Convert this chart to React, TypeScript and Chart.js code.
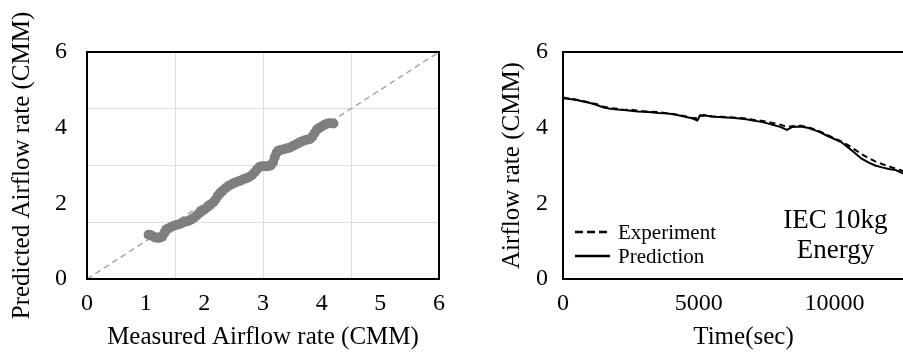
import React, { useEffect, useRef } from 'react';
import { Chart, registerables } from 'chart.js';
Chart.register(...registerables);

const FONT = "'Liberation Serif', 'Times New Roman', serif";

// ---- Left chart: measured vs predicted ----
const measured = [
  1.05, 1.08, 1.12, 1.16, 1.2, 1.24, 1.28, 1.32, 1.35, 1.38, 1.42, 1.47, 1.52, 1.57, 1.62, 1.67, 1.72, 1.77,
  1.82, 1.87, 1.92, 1.96, 2.0, 2.05, 2.1, 2.15, 2.19, 2.23, 2.27, 2.31, 2.36, 2.41, 2.46, 2.51, 2.56, 2.61,
  2.66, 2.71, 2.76, 2.81, 2.86, 2.9, 2.94, 2.98, 3.03, 3.08, 3.13, 3.17, 3.2, 3.23, 3.26, 3.3, 3.35, 3.4,
  3.45, 3.5, 3.55, 3.6, 3.65, 3.7, 3.75, 3.8, 3.84, 3.88, 3.92, 3.96, 4.0, 4.05, 4.1, 4.15, 4.2,
];
const predicted = [
  1.17, 1.16, 1.13, 1.1, 1.09, 1.09, 1.12, 1.22, 1.31, 1.33, 1.36, 1.4, 1.43, 1.45, 1.48, 1.51, 1.53, 1.57,
  1.62, 1.68, 1.75, 1.8, 1.84, 1.9, 1.96, 2.02, 2.1, 2.2, 2.27, 2.33, 2.4, 2.46, 2.5, 2.54, 2.57, 2.6,
  2.63, 2.66, 2.69, 2.74, 2.82, 2.9, 2.96, 2.98, 2.98, 2.98, 3.0, 3.08, 3.22, 3.33, 3.39, 3.41, 3.43, 3.45,
  3.47, 3.51, 3.55, 3.59, 3.63, 3.66, 3.68, 3.7, 3.76, 3.86, 3.95, 3.99, 4.03, 4.08, 4.11, 4.12, 4.11,
];
const identityLine = [0, 6];

// ---- Right chart: airflow over time ----
const timeSec = [
  0, 250, 500, 750, 1000, 1250, 1500, 1750, 2000, 2250, 2500, 2750, 3000, 3250, 3500, 3750, 4000, 4250, 4500,
  4750, 4950, 5050, 5250, 5500, 5750, 6000, 6250, 6500, 6750, 7000, 7250, 7500, 7750, 8000, 8250, 8450, 8750,
  9000, 9250, 9500, 9750, 10000, 10250, 10500, 10750, 11000, 11250, 11500, 11750, 12000, 12250, 12500, 12750,
  13000,
];
const experiment = [
  4.8, 4.77, 4.74, 4.7, 4.66, 4.62, 4.55, 4.52, 4.5, 4.47, 4.48, 4.45, 4.43, 4.42, 4.41, 4.39, 4.37, 4.34, 4.3,
  4.26, 4.25, 4.31, 4.33, 4.3, 4.29, 4.28, 4.27, 4.26, 4.24, 4.21, 4.19, 4.16, 4.12, 4.08, 4.02, 4.04, 4.05,
  4.02, 3.96, 3.89, 3.8, 3.72, 3.64, 3.54, 3.42, 3.3, 3.2, 3.11, 3.04, 2.98, 2.92, 2.86, 2.79, 2.72,
];
const prediction = [
  4.78, 4.76, 4.73, 4.69, 4.65, 4.6, 4.53, 4.5, 4.48, 4.47, 4.45, 4.43, 4.42, 4.41, 4.39, 4.38, 4.36, 4.33, 4.29,
  4.25, 4.19, 4.33, 4.32, 4.29, 4.28, 4.27, 4.26, 4.24, 4.22, 4.19, 4.16, 4.12, 4.07, 4.02, 3.94, 4.02, 4.03,
  4.0, 3.94, 3.87, 3.78, 3.7, 3.62, 3.48, 3.33, 3.18, 3.08, 3.0, 2.95, 2.91, 2.88, 2.8, 2.72, 2.65,
];
const timeTicks = [0, 5000, 10000];
const legendLabels = ['Experiment', 'Prediction'];
const annotationLines = ['IEC 10kg', 'Energy'];

const near = (v: number, step: number) => Math.abs(v / step - Math.round(v / step)) < 1e-6;

const boxPlugin = {
  id: 'boxBorder',
  afterDraw(chart: any) {
    const { ctx, chartArea: a } = chart;
    ctx.save();
    ctx.strokeStyle = '#000';
    ctx.lineWidth = 2;
    ctx.strokeRect(a.left, a.top, a.right - a.left, a.bottom - a.top);
    ctx.restore();
  },
};

const legendPlugin = {
  id: 'customLegend',
  afterDraw(chart: any) {
    const { ctx, chartArea: a, scales } = chart;
    ctx.save();
    ctx.strokeStyle = '#000';
    ctx.fillStyle = '#000';
    ctx.lineWidth = 2.5;
    const lx = a.left + 12;
    const rows = [a.bottom - 47, a.bottom - 23];
    rows.forEach((y, i) => {
      ctx.setLineDash(i === 0 ? [8, 4] : []);
      ctx.beginPath();
      ctx.moveTo(lx, y);
      ctx.lineTo(lx + 35, y);
      ctx.stroke();
      ctx.font = `21px ${FONT}`;
      ctx.textBaseline = 'middle';
      ctx.textAlign = 'left';
      ctx.fillText(legendLabels[i], lx + 43, y + 1);
    });
    ctx.setLineDash([]);
    const cx = scales.x.getPixelForValue(10000) + 1;
    ctx.font = `27px ${FONT}`;
    ctx.textAlign = 'center';
    ctx.textBaseline = 'alphabetic';
    ctx.fillText(annotationLines[0], cx, a.bottom - 51);
    ctx.fillText(annotationLines[1], cx, a.bottom - 21);
    ctx.restore();
  },
};

function LeftChart() {
  const ref = useRef<HTMLCanvasElement>(null);
  useEffect(() => {
    const chart = new Chart(ref.current!, {
      type: 'scatter',
      data: {
        datasets: [
          {
            data: measured.map((x, i) => ({ x, y: predicted[i] })),
            backgroundColor: '#7f7f7f',
            borderWidth: 0,
            pointRadius: 5,
            order: 0,
          },
          {
            data: identityLine.map((v) => ({ x: v, y: v })),
            showLine: true,
            borderColor: '#a6a6a6',
            borderWidth: 1.5,
            borderDash: [6, 4],
            pointRadius: 0,
            order: 1,
          } as any,
        ],
      },
      options: {
        responsive: false,
        animation: false,
        layout: { padding: { top: 52, right: 21, left: 0, bottom: 0 } },
        plugins: { legend: { display: false }, tooltip: { enabled: false } },
        scales: {
          x: {
            type: 'linear',
            min: 0,
            max: 6,
            afterFit: (s: any) => { s.height = 73; },
            ticks: {
              stepSize: 0.5,
              autoSkip: false,
              maxRotation: 0,
              padding: 10,
              color: '#000',
              font: { family: FONT, size: 24 },
              callback: (v: any) => (near(v, 1) ? String(Math.round(v)) : ''),
            },
            grid: {
              drawTicks: false,
              lineWidth: 1,
              color: (c: any) =>
                c.tick && near(c.tick.value, 1.5) && c.tick.value > 0 && c.tick.value < 6 ? '#dedede' : 'rgba(0,0,0,0)',
            },
            border: { display: false },
            title: {
              display: true,
              text: 'Measured Airflow rate (CMM)',
              color: '#000',
              font: { family: FONT, size: 25 },
              padding: { top: 0, bottom: 0 },
            },
          },
          y: {
            type: 'linear',
            min: 0,
            max: 6,
            afterFit: (s: any) => { s.width = 87; },
            ticks: {
              stepSize: 0.5,
              autoSkip: false,
              padding: 20,
              color: '#000',
              font: { family: FONT, size: 24 },
              callback: (v: any) => (near(v, 2) ? String(Math.round(v)) : ''),
            },
            grid: {
              drawTicks: false,
              lineWidth: 1,
              color: (c: any) =>
                c.tick && near(c.tick.value, 1.5) && c.tick.value > 0 && c.tick.value < 6 ? '#dedede' : 'rgba(0,0,0,0)',
            },
            border: { display: false },
            title: {
              display: true,
              text: 'Predicted Airflow rate (CMM)',
              color: '#000',
              font: { family: FONT, size: 25 },
              padding: { top: 7, bottom: 0 },
            },
          },
        },
      },
      plugins: [boxPlugin],
    } as any);
    return () => chart.destroy();
  }, []);
  return <canvas ref={ref} width={460} height={352} />;
}

function RightChart() {
  const ref = useRef<HTMLCanvasElement>(null);
  useEffect(() => {
    const chart = new Chart(ref.current!, {
      type: 'scatter',
      data: {
        datasets: [
          {
            label: legendLabels[0],
            data: timeSec.map((x, i) => ({ x, y: experiment[i] })),
            showLine: true,
            borderColor: '#000',
            borderWidth: 2,
            borderDash: [6, 4],
            pointRadius: 0,
          },
          {
            label: legendLabels[1],
            data: timeSec.map((x, i) => ({ x, y: prediction[i] })),
            showLine: true,
            borderColor: '#000',
            borderWidth: 2,
            pointRadius: 0,
          },
        ],
      },
      options: {
        responsive: false,
        animation: false,
        layout: { padding: { top: 52, right: 16, left: 0, bottom: 0 } },
        plugins: { legend: { display: false }, tooltip: { enabled: false } },
        scales: {
          x: {
            type: 'linear',
            min: 0,
            max: 13300,
            afterFit: (s: any) => { s.height = 73; },
            afterBuildTicks: (s: any) => { s.ticks = timeTicks.map((value) => ({ value })); },
            ticks: {
              autoSkip: false,
              maxRotation: 0,
              padding: 10,
              color: '#000',
              font: { family: FONT, size: 24 },
              callback: (v: any) => String(v),
            },
            grid: { display: false, drawTicks: false },
            border: { display: false },
            title: {
              display: true,
              text: 'Time(sec)',
              color: '#000',
              font: { family: FONT, size: 25 },
              padding: { top: 0, bottom: 0 },
            },
          },
          y: {
            type: 'linear',
            min: 0,
            max: 6,
            afterFit: (s: any) => { s.width = 103; },
            ticks: {
              stepSize: 2,
              padding: 15,
              color: '#000',
              font: { family: FONT, size: 24 },
            },
            grid: { display: false, drawTicks: false },
            border: { display: false },
            title: {
              display: true,
              text: 'Airflow rate (CMM)',
              color: '#000',
              font: { family: FONT, size: 25 },
              padding: { top: 37, bottom: 0 },
            },
          },
        },
      },
      plugins: [boxPlugin, legendPlugin],
    } as any);
    return () => chart.destroy();
  }, []);
  return <canvas ref={ref} width={480} height={352} />;
}

export default function App() {
  return (
    <div
      style={{
        position: 'fixed',
        left: 0,
        top: 0,
        width: 903,
        height: 352,
        overflow: 'hidden',
        background: '#fff',
      }}
    >
      <div style={{ position: 'absolute', left: 0, top: 0, width: 460, height: 352 }}>
        <LeftChart />
      </div>
      <div style={{ position: 'absolute', left: 460, top: 0, width: 480, height: 352 }}>
        <RightChart />
      </div>
    </div>
  );
}
